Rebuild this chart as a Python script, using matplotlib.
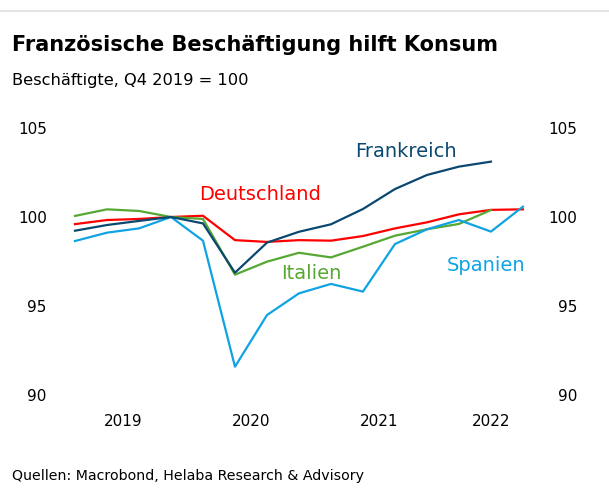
import matplotlib.pyplot as plt
from matplotlib.lines import Line2D

# Quartalswerte Q1 2019 .. Q3 2022, Beschäftigte Q4 2019 = 100
quarters = ['Q1 19', 'Q2 19', 'Q3 19', 'Q4 19', 'Q1 20', 'Q2 20', 'Q3 20', 'Q4 20',
            'Q1 21', 'Q2 21', 'Q3 21', 'Q4 21', 'Q1 22', 'Q2 22', 'Q3 22']
deutschland = [99.6, 99.83, 99.89, 100.0, 100.07, 98.7, 98.6, 98.7,
               98.67, 98.93, 99.36, 99.7, 100.15, 100.4, 100.43]
frankreich = [99.23, 99.55, 99.78, 100.0, 99.64, 96.87, 98.56, 99.17,
              99.59, 100.45, 101.57, 102.36, 102.83, 103.11]
italien = [100.06, 100.43, 100.34, 100.0, 99.89, 96.76, 97.49, 97.99,
           97.73, 98.33, 98.95, 99.31, 99.61, 100.39]
spanien = [98.65, 99.12, 99.36, 100.0, 98.67, 91.59, 94.49, 95.71,
           96.24, 95.81, 98.48, 99.31, 99.83, 99.18, 100.58]

year_labels = ['2019', '2020', '2021', '2022']
year_pos = [1.5, 5.5, 9.5, 13.0]  # Mitte der sichtbaren Quartale
yticks = [90, 95, 100, 105]

c_fr = '#0b4870'
c_de = '#ff0000'
c_it = '#56a833'
c_es = '#10a3e3'

plt.rcParams['font.family'] = ['DejaVu Sans']

W, H = 609, 495
fig = plt.figure(figsize=(W / 100, H / 100), dpi=100)
ax = fig.add_axes([60 / W, 1 - 395 / H, (545 - 60) / W, (395 - 128) / H])

ax.plot(range(len(deutschland)), deutschland, color=c_de, lw=1.6)
ax.plot(range(len(italien)), italien, color=c_it, lw=1.6)
ax.plot(range(len(spanien)), spanien, color=c_es, lw=1.6)
ax.plot(range(len(frankreich)), frankreich, color=c_fr, lw=1.6)

ax.text(10.34, 103.7, 'Frankreich', color=c_fr, fontsize=14, ha='center', va='center')
ax.text(5.78, 101.29, 'Deutschland', color=c_de, fontsize=14, ha='center', va='center')
ax.text(7.375, 96.85, 'Italien', color=c_it, fontsize=14, ha='center', va='center')
ax.text(12.84, 97.3, 'Spanien', color=c_es, fontsize=14, ha='center', va='center')

ax.set_xlim(-0.469, 14.69)
ax.set_ylim(90, 105)
ax.set_yticks(yticks)
ax.set_xticks(year_pos)
ax.set_xticklabels(year_labels)
ax.tick_params(axis='both', length=0, labelsize=11)
ax.tick_params(axis='x', pad=14)
ax.tick_params(axis='y', pad=9.5)
for s in ax.spines.values():
    s.set_visible(False)

ax2 = ax.twinx()
ax2.set_ylim(90, 105)
ax2.set_yticks(yticks)
ax2.tick_params(axis='y', length=0, labelsize=11, pad=23)
for lab in ax2.get_yticklabels():
    lab.set_horizontalalignment('right')
for s in ax2.spines.values():
    s.set_visible(False)

fig.add_artist(Line2D([0, 1], [1 - 11 / H, 1 - 11 / H], color='#e4e4e4', lw=1.5))
fig.text(12 / W, 1 - 45 / H, 'Französische Beschäftigung hilft Konsum',
         fontsize=15, fontweight='bold', va='center')
fig.text(12 / W, 1 - 80 / H, 'Beschäftigte, Q4 2019 = 100', fontsize=11.7, va='center')
fig.text(12 / W, 1 - 476 / H, 'Quellen: Macrobond, Helaba Research & Advisory',
         fontsize=10.2, va='center')

fig.savefig('out.png', dpi=100)
